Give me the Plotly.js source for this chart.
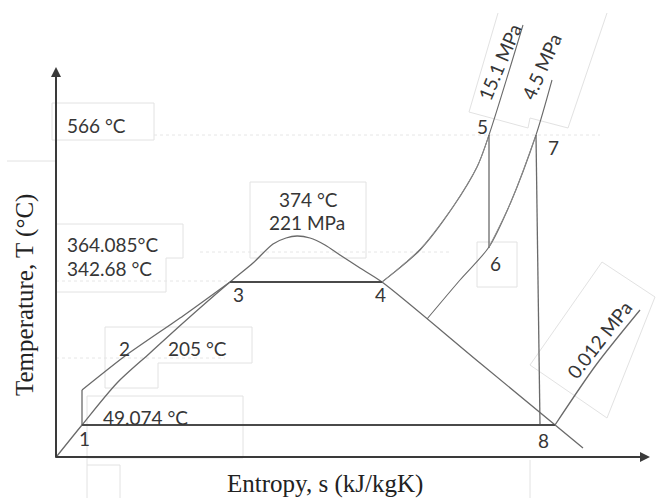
<!DOCTYPE html>
<html>
<head>
<meta charset="utf-8">
<script src="https://cdn.plot.ly/plotly-3.0.1.min.js"></script>
<style>html,body{margin:0;padding:0;background:#fff;}#chart{width:657px;height:498px;}</style>
</head>
<body>
<div id="chart"></div>
<script>
// Schematic T-s diagram (arbitrary units: s to the right, T upward)
const domeS = [1, 26, 61, 94, 127, 174, 197, 217, 230, 241, 254, 269, 284, 304, 326, 424, 527];
const domeT = [1, 32, 74, 104, 134, 175, 194, 213, 219, 221, 219, 212, 202, 189, 175, 94, 9];

const pumpS = [26, 26];
const pumpT = [32, 67];
const heatS = [26, 69, 127, 174];
const heatT = [67, 101, 141, 175];

const evapS = [174, 326];
const evapT = [175, 175];

const hp151S = [326, 364, 397, 421, 433, 467];
const hp151T = [175, 207, 250, 290, 322, 432];
const hp151bS = [326, 365, 398, 422, 433];
const hp151bT = [175, 209, 252, 292, 322];

const turb56S = [433, 433];
const turb56T = [322, 209];

const p45S = [371, 404, 433, 454, 480, 496];
const p45T = [138, 177, 210, 253, 322, 377];
const p45bS = [433, 455, 480];
const p45bT = [210, 255, 322];

const turb78S = [480, 484];
const turb78T = [322, 32];

const condS = [26, 499];
const condT = [32, 32];

const p0012S = [499, 540, 584];
const p0012T = [32, 92, 147];

const labelTexts = ["566 °C", "364.085°C", "342.68 °C", "374 °C", "221 MPa", "205 °C", "49.074 °C",
                    "1", "2", "3", "4", "5", "6", "7", "8"];
const labelS = [9, 9, 9, 252, 251, 141, 45, 28, 68, 182, 324, 426, 439, 497, 487];
const labelT = [332, 213, 189, 258, 235, 109, 40, 19, 109, 163, 163, 331, 194, 310, 17];
const labelAnchor = ["left", "left", "left", "center", "center", "center", "left",
                     "center", "center", "center", "center", "center", "center", "center", "center"];

const pressTexts = ["15.1 MPa", "4.5 MPa", "0.012 MPa"];
const pressS = [443, 485, 543];
const pressT = [395, 391, 118];
const pressAngle = [-67, -66, -52];

const LC = "#6a6a6a";
function line(x, y, opts) {
  return Object.assign({
    type: "scatter", mode: "lines", x: x, y: y, hoverinfo: "skip", showlegend: false,
    line: {color: LC, width: 1.3, shape: "linear"}
  }, opts || {});
}

const traces = [
  line(domeS, domeT, {line: {color: LC, width: 1.3, shape: "spline", smoothing: 0.8}}),
  line(pumpS, pumpT),
  line(heatS, heatT, {line: {color: LC, width: 1.3, shape: "spline", smoothing: 0.6}}),
  line(evapS, evapT, {line: {color: "#4a4a4a", width: 2}}),
  line(hp151S, hp151T, {line: {color: LC, width: 1.1, shape: "spline", smoothing: 0.8}}),
  line(hp151bS, hp151bT, {line: {color: "#8a8a8a", width: 1, shape: "spline", smoothing: 0.8}}),
  line(turb56S, turb56T),
  line(p45S, p45T, {line: {color: LC, width: 1.1, shape: "spline", smoothing: 0.8}}),
  line(p45bS, p45bT, {line: {color: "#8a8a8a", width: 1, shape: "spline", smoothing: 0.8}}),
  line(turb78S, turb78T),
  line(condS, condT, {line: {color: "#4a4a4a", width: 2}}),
  line(p0012S, p0012T, {line: {color: LC, width: 1.3, shape: "spline", smoothing: 0.8}})
];

const FONT = {family: "Lato, 'Open Sans', sans-serif", size: 19, color: "#363636"};
const annotations = [];
for (let i = 0; i < labelTexts.length; i++) {
  annotations.push({x: labelS[i], y: labelT[i], xref: "x", yref: "y", text: labelTexts[i],
    showarrow: false, xanchor: labelAnchor[i], yanchor: "middle", font: FONT});
}
for (let i = 0; i < pressTexts.length; i++) {
  annotations.push({x: pressS[i], y: pressT[i], xref: "x", yref: "y", text: pressTexts[i],
    showarrow: false, textangle: pressAngle[i], font: FONT});
}
// axis arrows
annotations.push({x: 0, y: 390, ax: 0, ay: -2, axref: "x", ayref: "y", xref: "x", yref: "y", text: "",
  showarrow: true, arrowhead: 2, arrowsize: 1, arrowwidth: 2, arrowcolor: "#3a3a3a"});
annotations.push({x: 594, y: 0, ax: -2, ay: 0, axref: "x", ayref: "y", xref: "x", yref: "y", text: "",
  showarrow: true, arrowhead: 2, arrowsize: 1, arrowwidth: 2, arrowcolor: "#3a3a3a"});
// axis titles
const TFONT = {family: "'Liberation Serif', 'Times New Roman', serif", size: 25, color: "#222"};
annotations.push({x: -31, y: 162, xref: "x", yref: "y", text: "Temperature, T (°C)", textangle: -90,
  showarrow: false, font: TFONT});
annotations.push({x: 269, y: -27, xref: "x", yref: "y", text: "Entropy, s (kJ/kgK)",
  showarrow: false, font: TFONT});

const G = {color: "#e2e2e2", width: 1};
const GD = {color: "#e6e6e6", width: 1, dash: "dot"};
const shapes = [
  {type: "rect", x0: -4, x1: 98, y0: 317, y1: 354, line: G},
  {type: "line", x0: 98, x1: 544, y0: 322, y1: 322, line: GD},
  {type: "line", x0: -49, x1: 0, y0: 296, y1: 296, line: G},
  {type: "path", path: "M -1 233 L 127 233 L 127 199 L 110 199 L 110 165 L -1 165", line: G},
  {type: "line", x0: 144, x1: 394, y0: 205, y1: 205, line: GD},
  {type: "line", x0: 0, x1: 174, y0: 176, y1: 176, line: GD},
  {type: "rect", x0: 194, x1: 310, y0: 199, y1: 275, line: G},
  {type: "path", path: "M 49 130 L 196 130 L 196 94 L 102 94 L 102 69 L 49 69 Z", line: G},
  {type: "line", x0: 0, x1: 169, y0: 99, y1: 99, line: GD},
  {type: "rect", x0: 31, x1: 187, y0: -1, y1: 61, line: G},
  {type: "path", path: "M 31 -1 L 31 -41 M 31 -8 L 64 -8 L 64 -41", line: G},
  {type: "rect", x0: 421, x1: 461, y0: 170, y1: 215, line: G},
  {type: "line", x0: 474, x1: 474, y0: -3, y1: -41, line: G},
  {type: "path", path: "M 442 444 L 413 345 L 472 329 L 474 339 L 512 329 L 551 444", line: G},
  {type: "path", path: "M 474 92 L 546 195 L 599 160 L 551 39 Z", line: G},
  // axes
  {type: "line", x0: 0, x1: 0, y0: 0, y1: 385, line: {color: "#3a3a3a", width: 2}},
  {type: "line", x0: 0, x1: 588, y0: 0, y1: 0, line: {color: "#3a3a3a", width: 2}}
];
shapes.forEach(s => { s.xref = "x"; s.yref = "y"; s.layer = s.layer || "below"; });

const hidden = {visible: false, showgrid: false, zeroline: false, fixedrange: true};
const layout = {
  width: 657, height: 498,
  margin: {l: 0, r: 0, t: 0, b: 0, pad: 0},
  paper_bgcolor: "#fff", plot_bgcolor: "#fff",
  xaxis: Object.assign({range: [-56, 601]}, hidden),
  yaxis: Object.assign({range: [-41, 457]}, hidden),
  showlegend: false,
  annotations: annotations,
  shapes: shapes
};
Plotly.newPlot("chart", traces, layout, {staticPlot: true, displayModeBar: false});
</script>
</body>
</html>
